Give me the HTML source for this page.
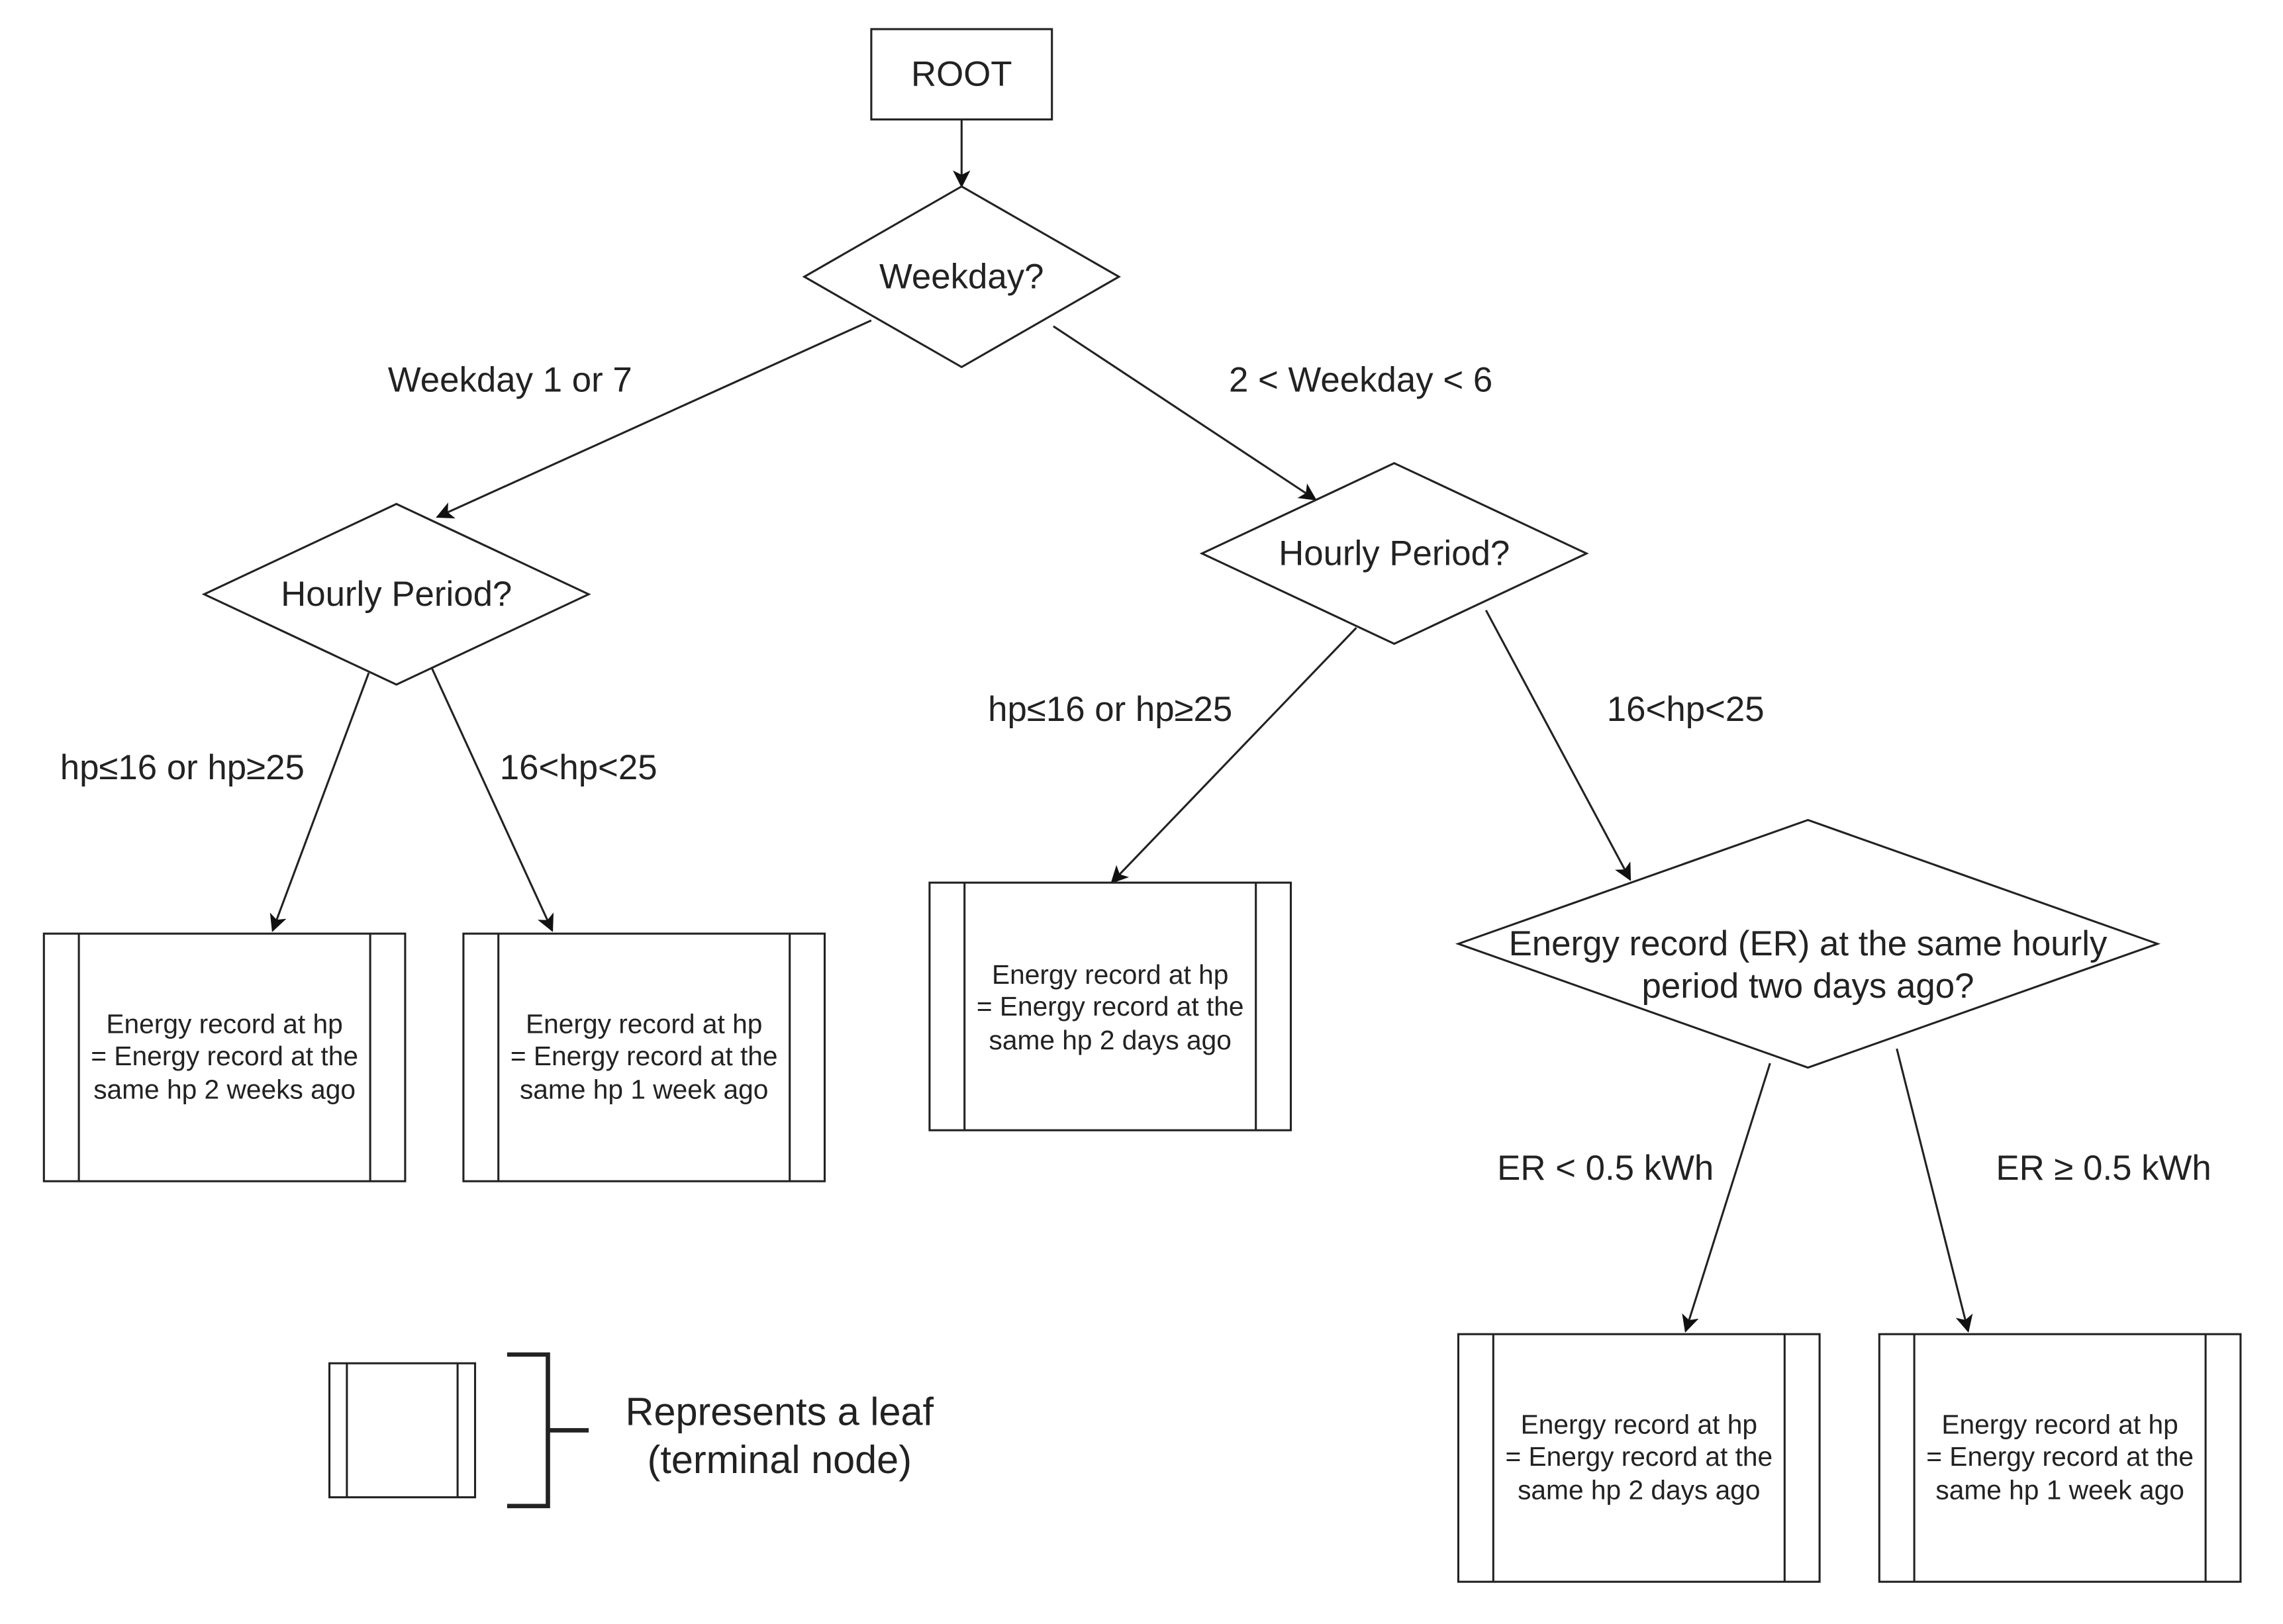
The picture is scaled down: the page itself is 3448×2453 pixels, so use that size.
<!DOCTYPE html>
<html><head><meta charset="utf-8"><style>
html,body{margin:0;padding:0;background:#fff;}
svg{display:block;}
text{font-family:"Liberation Sans",Arial,sans-serif;fill:#222;text-anchor:middle;dominant-baseline:central;}
.l{font-size:24px;}
.s{font-size:18.5px;}
</style></head><body>
<svg width="3448" height="2453" viewBox="0 0 1567 1115" xmlns="http://www.w3.org/2000/svg">
<defs><marker id="a" markerWidth="12" markerHeight="12" refX="11" refY="6" orient="auto" markerUnits="userSpaceOnUse"><path d="M0,0 L12,6 L0,12 L3,6 Z" fill="#111"/></marker></defs>
<g fill="none" stroke="#222" stroke-width="1.4">
<rect x="598" y="20" width="124" height="62" fill="#fff"/>
<line x1="660" y1="82" x2="660" y2="128" marker-end="url(#a)"/>
<polygon points="660,128 768,190 660,252 552,190" fill="#fff"/>
<line x1="598" y1="220" x2="300" y2="355" marker-end="url(#a)"/>
<line x1="723" y1="224" x2="903" y2="343" marker-end="url(#a)"/>
<polygon points="272,346 404,408 272,470 140,408" fill="#fff"/>
<polygon points="957,318 1089,380 957,442 825,380" fill="#fff"/>
<line x1="253" y1="462" x2="187" y2="639" marker-end="url(#a)"/>
<line x1="296" y1="458" x2="379" y2="639" marker-end="url(#a)"/>
<line x1="931" y1="431" x2="763" y2="606" marker-end="url(#a)"/>
<line x1="1020" y1="419" x2="1119" y2="604" marker-end="url(#a)"/>
<rect x="30" y="641" width="248" height="170"/><line x1="54" y1="641" x2="54" y2="811"/><line x1="254" y1="641" x2="254" y2="811"/>
<rect x="318" y="641" width="248" height="170"/><line x1="342" y1="641" x2="342" y2="811"/><line x1="542" y1="641" x2="542" y2="811"/>
<rect x="638" y="606" width="248" height="170"/><line x1="662" y1="606" x2="662" y2="776"/><line x1="862" y1="606" x2="862" y2="776"/>
<polygon points="1241,563 1481,648 1241,733 1001,648" fill="#fff"/>
<line x1="1215" y1="730" x2="1157" y2="914" marker-end="url(#a)"/>
<line x1="1302" y1="720" x2="1351" y2="914" marker-end="url(#a)"/>
<rect x="1001" y="916" width="248" height="170"/><line x1="1025" y1="916" x2="1025" y2="1086"/><line x1="1225" y1="916" x2="1225" y2="1086"/>
<rect x="1290" y="916" width="248" height="170"/><line x1="1314" y1="916" x2="1314" y2="1086"/><line x1="1514" y1="916" x2="1514" y2="1086"/>
<rect x="226" y="936" width="100" height="92"/><line x1="238" y1="936" x2="238" y2="1028"/><line x1="314" y1="936" x2="314" y2="1028"/>
<path d="M348,930 H376 V1034 H348 M376,982 H404" stroke-width="3"/>
</g>
<text class="l" x="660" y="51">ROOT</text>
<text class="l" x="660" y="190">Weekday?</text>
<text class="l" x="350" y="261">Weekday 1 or 7</text>
<text class="l" x="934" y="261">2 &lt; Weekday &lt; 6</text>
<text class="l" x="272" y="408">Hourly Period?</text>
<text class="l" x="957" y="380">Hourly Period?</text>
<text class="l" x="125" y="527">hp≤16 or hp≥25</text>
<text class="l" x="397" y="527">16&lt;hp&lt;25</text>
<text class="l" x="762" y="487">hp≤16 or hp≥25</text>
<text class="l" x="1157" y="487">16&lt;hp&lt;25</text>
<text class="l" x="1241" y="648">Energy record (ER) at the same hourly</text>
<text class="l" x="1241" y="677">period two days ago?</text>
<text class="l" x="1102" y="802">ER &lt; 0.5 kWh</text>
<text class="l" x="1444" y="802">ER ≥ 0.5 kWh</text>
<text class="s" x="154" y="703">Energy record at hp</text><text class="s" x="154" y="725">= Energy record at the</text><text class="s" x="154" y="748">same hp 2 weeks ago</text>
<text class="s" x="442" y="703">Energy record at hp</text><text class="s" x="442" y="725">= Energy record at the</text><text class="s" x="442" y="748">same hp 1 week ago</text>
<text class="s" x="762" y="669">Energy record at hp</text><text class="s" x="762" y="691">= Energy record at the</text><text class="s" x="762" y="714">same hp 2 days ago</text>
<text class="s" x="1125" y="978">Energy record at hp</text><text class="s" x="1125" y="1000">= Energy record at the</text><text class="s" x="1125" y="1023">same hp 2 days ago</text>
<text class="s" x="1414" y="978">Energy record at hp</text><text class="s" x="1414" y="1000">= Energy record at the</text><text class="s" x="1414" y="1023">same hp 1 week ago</text>
<text x="535" y="969" style="font-size:27px">Represents a leaf</text>
<text x="535" y="1002" style="font-size:27px">(terminal node)</text>
</svg>
</body></html>
